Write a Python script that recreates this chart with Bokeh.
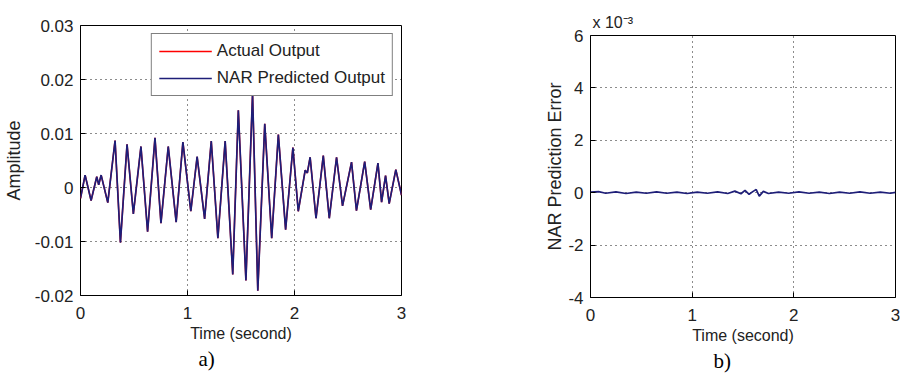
from bokeh.plotting import figure
from bokeh.layouts import row, column
from bokeh.models import (FixedTicker, CustomJSTickFormatter, Legend,
                          LegendItem, Range1d, Title)
from bokeh.embed import file_html
from bokeh.resources import INLINE

# ---- data ----
time_s = [0.000, 0.043, 0.099, 0.152, 0.170, 0.193, 0.255, 0.323, 0.373, 0.435,
          0.494, 0.565, 0.627, 0.696, 0.752, 0.820, 0.894, 0.957, 1.031, 1.090,
          1.160, 1.222, 1.284, 1.352, 1.423, 1.475, 1.546, 1.608, 1.657, 1.722,
          1.787, 1.849, 1.917, 1.985, 2.035, 2.100, 2.120, 2.146, 2.201, 2.269,
          2.325, 2.393, 2.449, 2.533, 2.579, 2.656, 2.712, 2.780, 2.814, 2.851,
          2.885, 2.947, 3.000]
predicted = [-0.0020, 0.0023, -0.0024, 0.0020, 0.0005, 0.0023, -0.0028, 0.0087, -0.0102, 0.0080,
             -0.0049, 0.0076, -0.0082, 0.0092, -0.0066, 0.0076, -0.0064, 0.0084, -0.0044, 0.0057,
             -0.0058, 0.0086, -0.0094, 0.0086, -0.0161, 0.0143, -0.0172, 0.0174, -0.0191, 0.0118,
             -0.0094, 0.0098, -0.0078, 0.0074, -0.0044, 0.0032, 0.0027, 0.0056, -0.0057, 0.0059,
             -0.0057, 0.0056, -0.0034, 0.0047, -0.0043, 0.0048, -0.0041, 0.0045, -0.0027, 0.0022,
             -0.0030, 0.0033, -0.0014]
actual = [-0.0020, 0.0023, -0.0024, 0.0020, 0.0005, 0.0023, -0.0028, 0.0087, -0.0102, 0.0080,
          -0.0049, 0.0076, -0.0082, 0.0092, -0.0066, 0.0076, -0.0064, 0.0084, -0.0044, 0.0057,
          -0.0058, 0.0086, -0.0094, 0.0086, -0.0161, 0.0143, -0.0172, 0.0174, -0.0191, 0.0118,
          -0.0094, 0.0098, -0.0078, 0.0074, -0.0044, 0.0032, 0.0027, 0.0056, -0.0057, 0.0059,
          -0.0057, 0.0056, -0.0034, 0.0047, -0.0043, 0.0048, -0.0041, 0.0045, -0.0027, 0.0022,
          -0.0030, 0.0033, -0.0014]

err_time = [0.00, 0.08, 0.15, 0.25, 0.35, 0.45, 0.55, 0.65, 0.75, 0.85, 0.95, 1.05,
            1.15, 1.25, 1.35, 1.42, 1.48, 1.52, 1.56, 1.60, 1.63, 1.66, 1.70, 1.75,
            1.85, 1.95, 2.05, 2.15, 2.25, 2.35, 2.45, 2.55, 2.65, 2.75, 2.85, 2.95, 3.00]
err_vals = [0.00002, 0.00004, -0.00002, 0.00003, -0.00003, 0.00002, -0.00002, 0.00003,
            -0.00002, 0.00002, -0.00003, 0.00002, -0.00002, 0.00003, -0.00003, 0.00006,
            -0.00004, 0.00009, -0.00006, 0.00005, 0.00012, -0.00013, 0.00005, -0.00003,
            0.00002, -0.00002, 0.00003, -0.00002, 0.00002, -0.00003, 0.00002, -0.00002,
            0.00003, -0.00002, 0.00002, -0.00002, 0.00001]

x_ticks = [0, 1, 2, 3]
left_y_ticks = [-0.02, -0.01, 0.0, 0.01, 0.02, 0.03]
right_y_ticks = [-0.004, -0.002, 0.0, 0.002, 0.004, 0.006]

FONT = "Liberation Sans"
SERIF = "Liberation Serif"
TXT = "#222222"
NAVY = "#1e1e78"


def style(p, yticks, yfmt, xlabel, ylabel, ylabel_standoff):
    p.xaxis.ticker = FixedTicker(ticks=x_ticks)
    p.yaxis.ticker = FixedTicker(ticks=yticks)
    p.yaxis.formatter = CustomJSTickFormatter(code=yfmt)
    p.xaxis.axis_label = xlabel
    p.yaxis.axis_label = ylabel
    for ax in (p.xaxis[0], p.yaxis[0]):
        ax.major_label_text_font = FONT
        ax.major_label_text_font_size = "17px"
        ax.major_label_text_color = TXT
        ax.axis_label_text_font = FONT
        ax.axis_label_text_font_style = "normal"
        ax.axis_label_text_color = TXT
        ax.major_tick_in = 5
        ax.major_tick_out = 0
        ax.minor_tick_line_color = None
        ax.axis_line_color = None
        ax.major_tick_line_color = "black"
    p.xaxis.axis_label_text_font_size = "16px"
    p.yaxis.axis_label_text_font_size = "18px"
    p.xaxis.major_label_standoff = 11
    p.xaxis.axis_label_standoff = 3
    p.yaxis.major_label_standoff = 7
    p.yaxis.axis_label_standoff = ylabel_standoff
    for g in (p.xgrid[0], p.ygrid[0]):
        g.grid_line_color = "black"
        g.grid_line_dash = "1 4"
        g.grid_line_width = 1
        g.grid_line_alpha = 0.9
    p.xgrid.ticker = FixedTicker(ticks=x_ticks)
    p.ygrid.ticker = FixedTicker(ticks=yticks)
    p.outline_line_color = "black"
    p.outline_line_width = 1
    p.outline_line_alpha = 1
    p.background_fill_color = "white"
    p.border_fill_color = "white"


# ---- left panel ----
p1 = figure(width=450, height=373, output_backend="svg", toolbar_location=None,
            title_location=None,
            x_range=Range1d(0, 3), y_range=Range1d(-0.02, 0.03),
            min_border_left=78, min_border_right=49, min_border_top=25, min_border_bottom=78)
style(p1, left_y_ticks,
      "return Math.abs(tick) < 1e-9 ? '0' : tick.toFixed(2);",
      "Time (second)", "Amplitude", 8)
r_act = p1.line(time_s, actual, line_color="red", line_width=1.5)
r_pred = p1.line(time_s, predicted, line_color=NAVY, line_width=1.7)
leg = Legend(items=[LegendItem(label="Actual Output", renderers=[r_act]),
                    LegendItem(label="NAR Predicted Output", renderers=[r_pred])],
             location="top_right", margin=8, padding=7, spacing=7,
             glyph_width=53, glyph_height=20, label_height=20, label_standoff=5,
             label_text_font=FONT, label_text_font_size="17px", label_text_color=TXT,
             border_line_color="black", border_line_width=1,
             background_fill_color="white", background_fill_alpha=1)
p1.add_layout(leg)
p1.add_layout(Title(text="a)", align="left", offset=118, standoff=0,
                    text_font=SERIF, text_font_size="21px", text_font_style="normal",
                    text_color="black"), "below")

# ---- right panel ----
p2 = figure(width=450, height=373, output_backend="svg", toolbar_location=None,
            title_location=None,
            x_range=Range1d(0, 3), y_range=Range1d(-0.004, 0.006),
            min_border_left=140, min_border_right=5, min_border_top=35, min_border_bottom=76)
style(p2, right_y_ticks,
      "return Math.abs(tick) < 1e-9 ? '0' : (tick*1000).toFixed(0);",
      "Time (second)", "NAR Prediction Error", 0)
p2.line(err_time, err_vals, line_color=NAVY, line_width=1.7)
p2.add_layout(Title(text="x 10\u207b\u00b3", align="left", offset=2, standoff=9,
                    text_font=FONT, text_font_size="16px", text_font_style="normal",
                    text_color=TXT), "above")
p2.add_layout(Title(text="b)", align="left", offset=123, standoff=0,
                    text_font=SERIF, text_font_size="21px", text_font_style="normal",
                    text_color="black"), "below")

layout = row(column(p1), column(p2))
open("out.html", "w").write(file_html(layout, INLINE))
